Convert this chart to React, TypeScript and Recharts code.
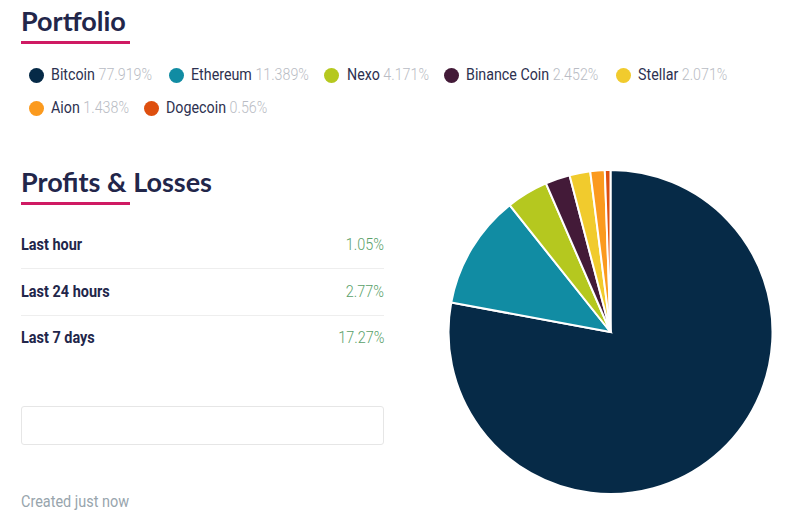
import { PieChart, Pie, Cell } from 'recharts'
import type { CSSProperties, ReactNode } from 'react'

const coins = ['Bitcoin', 'Ethereum', 'Nexo', 'Binance Coin', 'Stellar', 'Aion', 'Dogecoin']
const shares = [77.919, 11.389, 4.171, 2.452, 2.071, 1.438, 0.56]
const colors = ['#062a47', '#118ca3', '#b5c81f', '#431a38', '#f1cb2d', '#fb9a1e', '#de4f0f']

const periods = ['Last hour', 'Last 24 hours', 'Last 7 days']
const profits = ['1.05%', '2.77%', '17.27%']

// legend dot centres, [x, y]
const legendPos = [[36, 75], [176, 75], [331.5, 75], [451, 75], [623, 75], [36, 108], [151, 108]]

const pieData = coins.map((name, i) => ({ name, value: shares[i] }))

const NAVY = '#22264a'
const NARROW = 0.85

function Txt({ x, y, right, style, children }: { x?: number; y: number; right?: number; style?: CSSProperties; children: ReactNode }) {
  return (
    <div
      style={{
        position: 'absolute',
        top: y,
        left: x,
        right: right !== undefined ? 800 - right : undefined,
        whiteSpace: 'nowrap',
        fontFamily: 'Roboto',
        lineHeight: '20px',
        transform: `translateY(-11px) scaleX(${NARROW})`,
        transformOrigin: right !== undefined ? 'right center' : 'left center',
        ...style,
      }}
    >
      {children}
    </div>
  )
}

function Heading({ y, text }: { y: number; text: string }) {
  return (
    <>
      <div style={{ position: 'absolute', left: 21, top: y - 20, lineHeight: '40px', fontFamily: 'Lato', fontWeight: 700, fontSize: 27, color: NAVY, whiteSpace: 'nowrap' }}>
        {text}
      </div>
      <div style={{ position: 'absolute', left: 21, top: y + 20, width: 109, height: 3, background: '#cf1a63' }} />
    </>
  )
}

export default function App() {
  return (
    <div style={{ position: 'absolute', left: 0, top: 0, width: 800, height: 517, background: '#fff', overflow: 'hidden' }}>
      <Heading y={21} text="Portfolio" />

      {coins.map((c, i) => (
        <div key={c}>
          <div style={{ position: 'absolute', left: legendPos[i][0] - 7.5, top: legendPos[i][1] - 7.5, width: 15, height: 15, borderRadius: '50%', background: colors[i] }} />
          <Txt x={legendPos[i][0] + 15} y={legendPos[i][1]} style={{ fontSize: 16.8, color: '#2d3150' }}>
            {c} <span style={{ color: '#b9bcc4', fontWeight: 300 }}>{shares[i]}%</span>
          </Txt>
        </div>
      ))}

      <div style={{ position: 'absolute', left: 0, top: -1 }}>
        <Heading y={183} text="Profits & Losses" />
      </div>

      {periods.map((p, i) => (
        <div key={p}>
          <Txt x={21} y={245 + i * 46.5} style={{ fontSize: 17, fontWeight: 700, color: NAVY }}>{p}</Txt>
          <Txt right={384} y={245 + i * 46.5} style={{ fontSize: 17, fontWeight: 300, color: '#5a9f6a' }}>{profits[i]}</Txt>
          {i < 2 && <div style={{ position: 'absolute', left: 21, top: 268 + i * 46.5, width: 363, height: 1, background: '#eeeeee' }} />}
        </div>
      ))}

      <div style={{ position: 'absolute', left: 21, top: 406, width: 361, height: 37, border: '1px solid #e6e6e6', borderRadius: 3 }} />
      <Txt x={21} y={502} style={{ fontSize: 17, color: '#98a5ad' }}>Created just now</Txt>

      <div style={{ position: 'absolute', left: 0, top: 0 }}>
        <PieChart width={800} height={517} margin={{ top: 0, right: 0, bottom: 0, left: 0 }}>
          <Pie
            data={pieData}
            dataKey="value"
            nameKey="name"
            cx={610.5}
            cy={332}
            outerRadius={162}
            startAngle={90}
            endAngle={-270}
            stroke="#fff"
            strokeWidth={2}
            isAnimationActive={false}
          >
            {pieData.map((d, i) => <Cell key={d.name} fill={colors[i]} />)}
          </Pie>
        </PieChart>
      </div>
    </div>
  )
}
